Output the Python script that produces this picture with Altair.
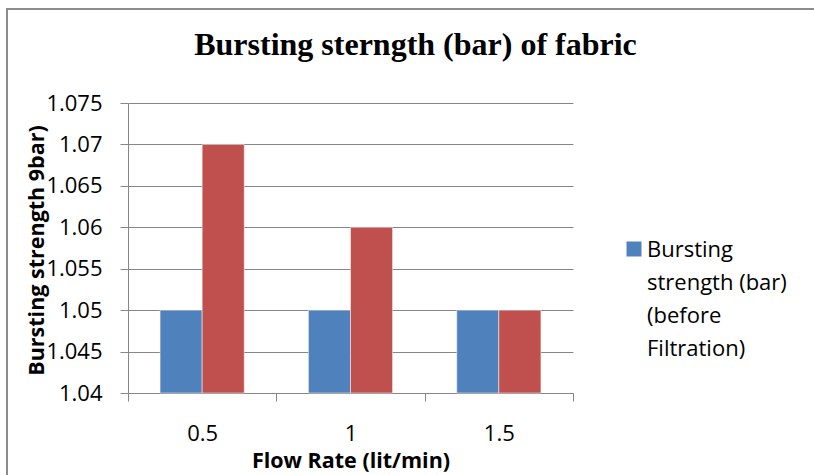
import altair as alt
import pandas as pd

flow_rates = ["0.5", "1", "1.5"]
before_values = [1.05, 1.05, 1.05]
after_values = [1.07, 1.06, 1.05]
series_names = [
    "Bursting strength (bar) (before Filtration)",
    "Bursting strength (bar) (after Filtration)",
]
series_colors = ["#4F81BD", "#C0504D"]
y_ticks = [1.04, 1.045, 1.05, 1.055, 1.06, 1.065, 1.07, 1.075]
legend_lines = ["Bursting", "strength (bar)", "(before", "Filtration)"]

rows = []
for i, f in enumerate(flow_rates):
    rows.append({"flow": f, "series": series_names[0], "value": before_values[i]})
    rows.append({"flow": f, "series": series_names[1], "value": after_values[i]})
df = pd.DataFrame(rows)

W, H = 445, 290
FONT = "Open Sans"
GRAY = "#868686"

legend_expr = "[" + ", ".join("'" + s + "'" for s in legend_lines) + "]"

bars = alt.Chart(df).mark_bar(stroke="white", strokeWidth=0.5).encode(
    x=alt.X(
        "flow:N",
        sort=flow_rates,
        scale=alt.Scale(paddingInner=0, paddingOuter=0),
        axis=alt.Axis(
            title="Flow Rate (lit/min)",
            labelAngle=0,
            tickBand="extent",
            tickSize=8,
            tickColor=GRAY,
            domainColor=GRAY,
            labelPadding=22,
            titlePadding=6,
            grid=False,
        ),
    ),
    xOffset=alt.XOffset(
        "series:N",
        sort=series_names,
        scale=alt.Scale(paddingInner=0, paddingOuter=0.762),
    ),
    y=alt.Y(
        "value:Q",
        scale=alt.Scale(domain=[1.04, 1.075], zero=False, nice=False),
        axis=alt.Axis(
            title="Bursting strength 9bar)",
            values=y_ticks,
            format=".3~f",
            tickSize=8,
            tickColor=GRAY,
            domainColor=GRAY,
            labelPadding=18,
            grid=True,
            gridColor=GRAY,
            titleX=-91,
            titleY=147,
            titleAngle=270,
            titleAlign="center",
            titleBaseline="middle",
        ),
    ),
    y2=alt.Y2Datum(1.04),
    color=alt.Color(
        "series:N",
        scale=alt.Scale(domain=series_names, range=series_colors),
        legend=alt.Legend(
            title=None,
            values=[series_names[0]],
            orient="none",
            legendX=495,
            legendY=126,
            symbolType="M-1,0.2H1V2.2H-1Z",
            symbolSize=225,
            symbolStrokeWidth=0,
            labelFontSize=22,
            labelFont=FONT,
            labelColor="black",
            labelLimit=400,
            labelOffset=2,
            labelBaseline="top",
            labelExpr=legend_expr,
        ),
    ),
)

border = alt.Chart(pd.DataFrame({"b": [0]})).mark_rect(
    fill="transparent", stroke="#8c8c8c", strokeWidth=2
).encode(
    x=alt.value(-121), x2=alt.value(W + 400),
    y=alt.value(-94), y2=alt.value(H + 300),
)

chart = alt.layer(border, bars).properties(
    width=W,
    height=H,
    title=alt.TitleParams(
        "Bursting sterngth (bar) of fabric",
        font="Liberation Serif",
        fontSize=32,
        fontWeight="bold",
        color="black",
        anchor="middle",
        baseline="alphabetic",
        dx=65,
        dy=79,
        offset=0,
    ),
    autosize=alt.AutoSizeParams(type="none"),
    padding={"left": 128, "top": 103, "right": 814 - 128 - W, "bottom": 475 - 103 - H},
).configure(
    style={"guide-label": {"lineHeight": 33}}
).configure_view(
    stroke="transparent"
).configure_axis(
    labelFont=FONT,
    labelFontSize=22,
    labelColor="black",
    titleFont=FONT,
    titleFontSize=21.5,
    titleFontWeight="bold",
    titleColor="black",
)

chart.save("out.html", embed_options={"renderer": "svg", "actions": False})
